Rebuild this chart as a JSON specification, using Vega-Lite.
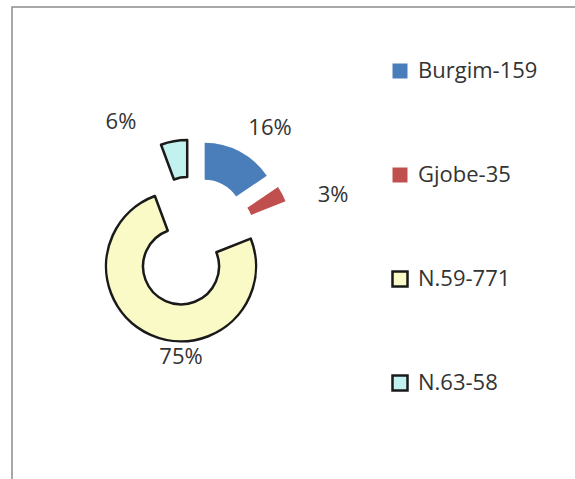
{
  "$schema": "https://vega.github.io/schema/vega-lite/v6.json",
  "width": 575,
  "height": 479,
  "autosize": {"type": "fit", "contains": "padding"},
  "padding": {"left": 12, "top": 7, "right": -3, "bottom": -3},
  "background": "white",
  "view": {"stroke": "#8c8c8c", "strokeWidth": 1.5},
  "data": {
    "values": [
      {"cat": "Burgim-159", "value": 159, "pct": "16%"},
      {"cat": "Gjobe-35", "value": 35, "pct": "3%"},
      {"cat": "N.59-771", "value": 771, "pct": "75%"},
      {"cat": "N.63-58", "value": 58, "pct": "6%"}
    ]
  },
  "encoding": {
    "theta": {"field": "value", "type": "quantitative", "stack": true},
    "order": {"field": "cat", "type": "nominal", "sort": "ascending"}
  },
  "layer": [
    {
      "mark": {
        "type": "arc",
        "outerRadius": 75,
        "innerRadius": 38,
        "x": {"expr": "width*0.318"},
        "y": {"expr": "height*0.494"},
        "xOffset": {"expr": "27*sin((scale('theta', datum.value_start)+scale('theta', datum.value_end))/2)"},
        "yOffset": {"expr": "-27*cos((scale('theta', datum.value_start)+scale('theta', datum.value_end))/2)"},
        "strokeWidth": 2.5,
        "strokeJoin": "round"
      },
      "encoding": {
        "fill": {
          "field": "cat",
          "type": "nominal",
          "scale": {
            "domain": ["Burgim-159", "Gjobe-35", "N.59-771", "N.63-58"],
            "range": ["#4a7ebb", "#c0504d", "#fafac6", "#c2f2ef"]
          },
          "legend": {
            "title": null,
            "orient": "none",
            "legendX": 377,
            "legendY": 53,
            "symbolType": "square",
            "symbolSize": 225,
            "symbolStrokeWidth": 2.5,
            "labelFont": "Open Sans",
            "labelFontSize": 22,
            "labelColor": "#333333",
            "labelOffset": 7,
            "rowPadding": 78
          }
        },
        "stroke": {
          "field": "cat",
          "type": "nominal",
          "scale": {
            "domain": ["Burgim-159", "Gjobe-35", "N.59-771", "N.63-58"],
            "range": ["rgba(0,0,0,0)", "rgba(0,0,0,0)", "#1a1a1a", "#1a1a1a"]
          },
          "legend": {
            "title": null,
            "orient": "none",
            "legendX": 377,
            "legendY": 53,
            "symbolType": "square",
            "symbolSize": 225,
            "symbolStrokeWidth": 2.5,
            "labelFont": "Open Sans",
            "labelFontSize": 22,
            "labelColor": "#333333",
            "labelOffset": 7,
            "rowPadding": 78
          }
        }
      }
    },
    {
      "mark": {
        "type": "text",
        "x": {"expr": "width*0.318"},
        "y": {"expr": "height*0.494"},
        "radius": {"expr": "datum.cat == 'N.59-771' ? 116 : datum.cat == 'Gjobe-35' ? 148.5 : datum.cat == 'Burgim-159' ? 137.7 : 139"},
        "thetaOffset": {"expr": "datum.cat == 'N.59-771' ? -0.323 : datum.cat == 'Gjobe-35' ? 0.168 : datum.cat == 'Burgim-159' ? 0.114 : -0.358"},
        "font": "Open Sans",
        "fontSize": 22,
        "color": "#333333",
        "align": "center",
        "baseline": "middle"
      },
      "encoding": {
        "text": {"field": "pct", "type": "nominal"},
        "detail": {"field": "cat", "type": "nominal"}
      }
    }
  ]
}
